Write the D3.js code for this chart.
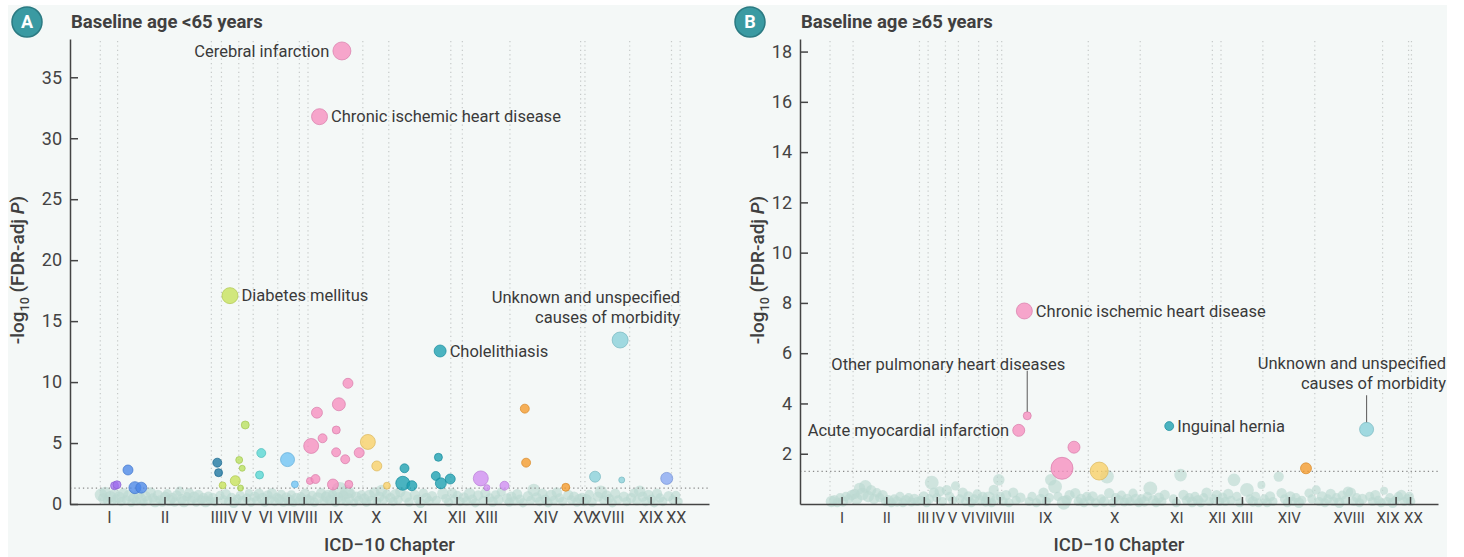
<!DOCTYPE html>
<html>
<head>
<meta charset="utf-8">
<script src="https://cdn.jsdelivr.net/npm/d3@7"></script>
<style>
  body { margin: 0; background: #fff; }
  svg { display: block; font-family: Roboto, "Noto Sans", sans-serif; }
</style>
</head>
<body>
<svg id="chart" width="1464" height="557"></svg>
<script>
// ICD-10 chapters and how many diseases each one holds (x order)
var chaptersA = ["I","II","III","IV","V","VI","VII","VIII","IX","X","XI","XII","XIII","XIV","XV","XVIII","XIX","XX"];
var countsA   = [12,65,7,12,10,17,15,6,38,18,43,8,33,49,3,31,29,6];
var chaptersB = ["I","II","III","IV","V","VI","VII","VIII","IX","X","XI","XII","XIII","XIV","XVIII","XIX","XX"];
var countsB   = [16,46,6,12,9,14,13,3,60,36,50,6,29,36,47,18,2];

var ticksA = [0,5,10,15,20,25,30,35];
var ticksB = [2,4,6,8,10,12,14,16,18];

var chapterColors = {
  "I":"#a070ee","II":"#4a86e8","III":"#1b75a0","IV":"#c6e25a","V":"#b9e05e",
  "VI":"#56d6d4","VII":"#6ec3f5","VIII":"#e27ab0","IX":"#f68dbf","X":"#f8cf66",
  "XI":"#1a9fb1","XII":"#1a9fb1","XIII":"#d08cf2","XIV":"#f59a2a","XV":"#f2a0a0",
  "XVIII":"#88d0da","XIX":"#86a6f2","XX":"#a0a0e0"
};

// significant diseases: [position, -log10 FDR-adj P, size]
var sigA = [
  [9.9,1.5,16],[11.6,1.58,16],
  [19.2,2.79,25],[24.0,1.34,36],[28.4,1.34,30],
  [81.1,3.39,20],[82.0,2.57,16],
  [84.8,1.53,12],[89.9,17.09,64],[93.6,1.91,25],
  [96.3,3.61,12],[98.4,2.93,9],[97.2,1.31,9],[100.5,6.48,16],
  [111.6,4.18,20],[110.4,2.38,16],
  [129.8,3.64,49],[134.9,1.61,12],
  [146.2,4.76,56],[145.3,1.89,12],[149.2,2.05,20],[150.2,7.49,30],[152.0,31.77,64],[154.1,5.39,20],
  [161.3,1.6,30],[163.5,4.24,20],[163.6,6.07,16],[165.4,8.18,42],[167.5,37.16,81],[169.8,3.67,20],
  [171.7,9.9,25],[172.3,1.61,16],[179.5,4.21,25],
  [185.5,5.09,56],[191.7,3.12,25],[198.7,1.5,12],
  [209.7,1.7,49],[210.9,2.93,20],[216.0,1.5,25],[232.6,2.3,20],[234.4,3.83,16],[235.6,12.55,36],
  [236.1,1.7,30],[242.6,2.05,25],
  [263.8,2.1,56],[268.0,1.34,9],[280.2,1.5,20],
  [294.3,7.82,20],[295.2,3.39,20],[322.7,1.37,16],
  [343.0,2.24,30],[360.4,13.45,64],[361.5,1.97,9],
  [392.7,2.1,36]
];

var sigB = [
  [130.8,2.93,36],[134.7,7.68,64],[136.7,3.51,16],[160.8,1.42,121],[169.1,2.26,36],
  [186.6,1.31,81],
  [235.1,3.1,20],
  [329.9,1.42,30],
  [371.9,2.97,49]
];

// non-significant diseases: [position, -log10 FDR-adj P, size]
var greyA = [
  [0.5,0.75,30],[2,0.45,20],[3.5,0.95,25],[5,0.3,16],[7,0.6,25],[8.5,0.2,12],[10,0.85,20],[11,0.4,16],
  [13,0.55,25],[14.5,0.2,16],[16,0.9,20],[18,0.35,16],[20,0.7,25],[21.5,0.1,12],[23,0.5,20],[25,0.25,16],
  [26.5,0.8,20],[28,0.4,25],[30,0.15,12],[31.5,0.65,20],[33,0.3,16],[35,0.95,20],[36.5,0.5,16],[38,0.2,25],
  [40,0.75,20],[41.5,0.35,16],[43,0.1,12],[45,0.6,20],[46.5,0.85,16],[48,0.3,25],[50,0.5,20],[51.5,0.15,16],
  [53,0.7,20],[55,1.05,16],[56.5,0.4,20],[58,0.2,25],[60,0.6,16],[61.5,0.9,20],[63,0.3,16],[65,0.55,25],
  [66.5,0.1,12],[68,0.75,20],[70,0.35,16],[71.5,0.5,20],[73,0.2,25],[75,0.65,16],[76,0.3,12],
  [78,0.5,20],[79.5,0.2,16],[83,0.7,16],
  [85.5,0.35,16],[87,0.8,20],[88.5,0.2,12],[91,0.55,16],[92.5,0.1,20],[95,0.4,16],
  [97,0.7,16],[99,0.25,20],[101.5,0.5,16],[103,0.9,12],[104.5,0.15,16],
  [107,0.6,20],[108.5,0.3,16],[110,0.85,20],[112.5,0.45,25],[114,0.15,16],[116,0.7,20],[117.5,0.35,16],
  [119,0.9,20],[121,0.2,16],[122.5,0.55,16],
  [124,0.4,20],[125.5,0.8,16],[127,0.15,16],[129,0.55,20],[131,0.3,25],[132.5,0.75,16],[134,0.1,12],
  [136,0.5,20],[137.5,0.25,16],
  [139,0.6,16],[140.5,0.2,16],[142,0.85,20],[143.5,0.4,16],
  [145,0.3,20],[147,0.7,16],[148.5,0.15,16],[151,0.5,25],[153,0.9,20],[155,0.25,16],[156.5,0.6,20],
  [158,0.6,36],[159.5,0.35,20],[161,0.8,16],[163,0.15,16],[165,0.55,20],[166,1.15,49],[167,0.3,16],
  [168.5,0.7,20],[170.5,0.2,16],[171,1.0,36],[172.5,0.45,20],[174,0.85,16],[176,0.1,12],[177.5,0.6,20],
  [179,0.3,16],[181,0.75,16],
  [183,0.45,20],[184.5,0.15,16],[186.5,0.7,25],[188,0.3,16],[190,0.95,20],[192,0.2,12],[193.5,0.6,20],
  [195,1.1,25],[196.5,0.35,16],[198.5,0.8,16],
  [201,0.5,20],[203,0.2,16],[204.5,0.8,20],[206.5,0.35,16],[208,1.0,20],[212,0.6,25],[214,0.15,16],
  [218,0.75,20],[220,0.4,16],[222,0.1,20],[224,0.9,16],[226,0.5,20],[228,0.25,16],[230,0.65,20],
  [233,0.3,16],[237.5,0.85,25],[239.5,0.45,16],[241.5,0.15,16],
  [244,0.9,20],[245.5,0.4,16],[247.5,0.7,16],[249.5,0.2,16],
  [252,0.55,20],[254,0.25,16],[256,0.85,25],[258,0.4,16],[260,0.1,16],[262,0.7,20],[265.5,0.3,16],
  [267,0.9,20],[270,0.5,16],[272,0.2,20],[274,0.75,16],[276,0.35,20],[278,1.0,16],[282,0.45,20],[283.5,0.15,16],
  [285,0.6,20],[287,0.25,16],[289,0.8,20],[291,0.4,16],[293,0.1,16],[296.5,0.65,20],[298.5,0.3,16],
  [300.5,1.15,30],[302.5,0.55,20],[304.5,0.2,16],[306.5,0.85,20],[308.5,0.4,16],[310.5,0.1,16],
  [312.5,0.7,25],[314.5,0.3,16],[316.5,0.95,20],[318.5,0.5,16],[320.5,0.2,16],[324.5,0.75,20],
  [326.5,0.35,16],[328.5,0.6,20],[330.5,0.15,16],[332,0.45,16],
  [334,0.55,16],[335.5,0.2,16],
  [337,0.4,20],[339,0.8,16],[341,0.15,16],[345,0.6,20],[347,1.0,30],[349,0.3,16],[351,0.7,20],
  [353,0.45,16],[355,0.1,16],[357,0.85,20],[359,0.35,16],[363,0.6,20],[365,0.2,16],
  [368,0.5,20],[370,0.9,16],[372,0.25,16],[374,1.05,25],[376,0.6,20],[378,0.2,16],[380,0.75,20],
  [382,0.4,16],[384,0.1,16],[386,0.85,20],[388,0.5,16],[390,0.2,16],[394,0.65,20],
  [397,0.35,16],[399,0.7,16],[401,0.2,12]
];

var greyB = [
  [1,0.1,25],[3,0.15,20],[5,0.05,16],[7,0.25,16],[9,0.1,20],[11,0.3,16],[13,0.2,16],[15,0.35,20],
  [17,0.4,20],[18.5,0.2,25],[20.5,0.62,25],[22.5,0.4,30],[24.5,0.7,30],[26.5,0.3,25],[28.5,0.55,20],
  [30.5,0.2,20],[32.5,0.45,16],[34.5,0.25,16],[36.5,0.35,20],[38.5,0.1,16],[40.5,0.15,20],[42.5,0.05,16],
  [44.5,0.2,16],[46.5,0.1,20],[48.5,0.3,16],[50.5,0.05,16],[52.5,0.15,20],[54.5,0.25,16],[56.5,0.08,16],
  [58.5,0.2,20],[60.5,0.1,16],
  [63,0.15,16],[65,0.3,20],[67,0.05,16],
  [69,0.2,16],[70.5,0.85,36],[72,0.45,20],[74,0.25,16],[76,0.5,20],[78,0.1,16],
  [81,0.55,20],[83,0.3,16],[85,0.15,16],[87,0.72,16],
  [90,0.2,16],[92,0.45,20],[94,0.1,16],[96,0.3,20],[98,0.05,16],[100,0.2,16],[102,0.4,16],
  [104,0.15,20],[106,0.3,16],[108,0.1,20],[110,0.25,30],[112,0.05,16],[113.5,0.56,20],[115,0.2,16],
  [117,0.96,25],[118,0.3,16],
  [120,0.1,16],[122,0.35,20],[124,0.05,16],[127,0.45,20],[129,0.15,16],[132,0.25,20],[138,0.1,16],
  [140,0.3,16],[143,0.05,16],[146,0.2,20],[148,0.45,20],[150,0.1,16],[152,0.25,16],[153,0.96,25],
  [156,0.69,36],[158,0.3,16],[162,0.05,36],[164,0.15,20],[166,0.35,20],[170,0.43,20],[172,0.1,16],
  [174,0.2,20],[176,0.05,16],[178,0.3,16],
  [180,0.15,16],[182,0.3,20],[184,0.05,16],[188,0.2,16],[190,0.1,20],[192,1.09,36],[193.5,0.43,20],
  [196,0.05,16],[198,0.25,16],[200,0.15,20],[202,0.35,16],[204,0.08,16],[206,0.2,20],[208,0.1,16],
  [210,0.43,16],[212,0.2,20],[214,0.05,16],
  [216,0.2,16],[218,0.1,20],[220,0.3,16],[222,0.62,36],[224,0.15,20],[226,0.05,16],[228,0.25,20],
  [230,0.1,16],[232,0.36,20],[238,0.2,16],[240,0.05,16],[243,1.15,30],[245,0.36,20],[247,0.15,16],
  [249,0.25,16],[251,0.08,20],[253,0.3,16],[255,0.15,20],[257,0.05,16],[259,0.25,16],[261,0.45,20],[263,0.1,16],
  [266,0.2,16],[268,0.35,20],[270,0.1,16],
  [272,0.25,20],[274,0.1,16],[276,0.4,20],[278,0.15,16],[280,0.96,30],[282,0.3,16],[284,0.05,16],
  [289,0.56,36],[291,0.2,16],[293,0.1,20],[295,0.3,16],[297,0.05,16],[299,0.76,12],
  [301,0.2,16],[303,0.05,16],[305,0.3,20],[307,0.1,16],[311,1.09,20],[313,0.43,20],[315,0.2,16],
  [317,0.05,16],[319,0.3,20],[321,0.1,16],[323,0.25,16],[325,0.05,20],[327,0.15,16],[332,0.43,16],[334,0.2,16],
  [337,0.56,16],[339,0.1,16],[341,0.3,20],[343,0.05,16],[345,0.2,16],[347,0.4,20],[349,0.1,16],
  [351,0.25,16],[353,0.05,20],[355,0.35,16],[357,0.15,16],[359,0.49,20],[361,0.45,20],[363,0.1,16],
  [365,0.25,16],[367,0.05,16],[369,0.2,20],[374,0.3,16],[376,0.1,16],[378,0.35,20],[380,0.15,16],[382,0.05,16],
  [384,0.53,12],[386,0.1,16],[388,0.25,16],[390,0.05,20],[392,0.15,16],[394,0.3,16],[396,0.36,20],
  [398,0.1,16],[400,0.2,16],
  [401.5,0.3,16],[402.5,0.1,16]
];

// labelled diseases: [position, label]
var labelsA = [
  [167.5, "Cerebral infarction"],
  [152.0, "Chronic ischemic heart disease"],
  [89.9,  "Diabetes mellitus"],
  [235.6, "Cholelithiasis"],
  [360.4, "Unknown and unspecified|causes of morbidity"]
];
var labelsB = [
  [134.7, "Chronic ischemic heart disease"],
  [136.7, "Other pulmonary heart diseases"],
  [130.8, "Acute myocardial infarction"],
  [235.1, "Inguinal hernia"],
  [371.9, "Unknown and unspecified|causes of morbidity"]
];

var threshold = -Math.log10(0.05);

// label placement (pixels, relative to the point)
var placement = {
  A: {
    "Cerebral infarction": {side: "left"},
    "Chronic ischemic heart disease": {side: "right"},
    "Diabetes mellitus": {side: "right"},
    "Cholelithiasis": {side: "right"},
    "Unknown and unspecified|causes of morbidity": {side: "top", dx: 60, dy: -43, anchor: "end"}
  },
  B: {
    "Chronic ischemic heart disease": {side: "right"},
    "Other pulmonary heart diseases": {side: "top", dx: -79, dy: -52, anchor: "middle", lead: -45},
    "Acute myocardial infarction": {side: "left"},
    "Inguinal hernia": {side: "right"},
    "Unknown and unspecified|causes of morbidity": {side: "top", dx: 79.5, dy: -66, anchor: "end", lead: -34}
  }
};

// small sideways nudges for crowded chapter labels
var tickNudgeA = {"VII": -2, "VIII": 2};
var tickNudgeB = {"III": -1, "IV": 1, "VI": -1, "VII": -4, "VIII": 4, "XIX": -8, "XX": 3};

var svg = d3.select("#chart");

svg.append("rect")
  .attr("x", 8).attr("y", 5)
  .attr("width", 1439).attr("height", 552)
  .attr("fill", "#f4f8f7");

var rScale = d3.scaleSqrt().domain([0, 100]).range([0, 10]);
var rGrey = d3.scaleSqrt().domain([0, 100]).range([0, 11.5]);

function drawPanel(o) {
  var top = 39, bottom = 504;
  var g = svg.append("g");

  var x = d3.scaleLinear().domain(o.xDomain).range([o.left, o.right]);
  var y = d3.scaleLinear().domain([0, o.yMax]).range([bottom, top]);

  var bounds = [0];
  o.counts.forEach(function(c) { bounds.push(bounds[bounds.length - 1] + c); });
  var centers = o.counts.map(function(c, i) { return bounds[i] + c / 2; });

  function chapterOf(p) {
    for (var k = 0; k < o.counts.length; k++) {
      if (p < bounds[k + 1]) return o.names[k];
    }
    return o.names[o.names.length - 1];
  }

  // chapter separators
  g.selectAll(".sep")
    .data(bounds)
    .enter().append("line")
    .attr("x1", function(d) { return x(d); })
    .attr("x2", function(d) { return x(d); })
    .attr("y1", top + 2).attr("y2", bottom)
    .attr("stroke", "#c5c9c8")
    .attr("stroke-width", 1.2)
    .attr("stroke-dasharray", "1.2,3.2");

  // non significant
  g.selectAll(".grey")
    .data(o.grey)
    .enter().append("circle")
    .attr("cx", function(d) { return x(d[0]); })
    .attr("cy", function(d) { return y(d[1]); })
    .attr("r", function(d) { return rGrey(d[2]); })
    .attr("fill", "#bcd8d1")
    .attr("fill-opacity", 0.65);

  // FDR threshold
  g.append("line")
    .attr("x1", o.left).attr("x2", o.right)
    .attr("y1", y(threshold)).attr("y2", y(threshold))
    .attr("stroke", "#8a8a8a")
    .attr("stroke-width", 1.3)
    .attr("stroke-dasharray", "1.3,3");

  // significant
  g.selectAll(".sig")
    .data(o.sig)
    .enter().append("circle")
    .attr("cx", function(d) { return x(d[0]); })
    .attr("cy", function(d) { return y(d[1]); })
    .attr("r", function(d) { return rScale(d[2]); })
    .attr("fill", function(d) { return chapterColors[chapterOf(d[0])]; })
    .attr("fill-opacity", 0.78)
    .attr("stroke", function(d) { return d3.color(chapterColors[chapterOf(d[0])]).darker(0.35); })
    .attr("stroke-opacity", 0.7)
    .attr("stroke-width", 1);

  // axes
  var xAxis = d3.axisBottom(x)
    .tickValues(centers)
    .tickFormat(function(d, i) { return o.names[i]; })
    .tickSizeInner(-7).tickSizeOuter(0).tickPadding(8);
  var gx = g.append("g").attr("transform", "translate(0," + bottom + ")").call(xAxis);

  var yAxis = d3.axisLeft(y)
    .tickValues(o.ticks)
    .tickSizeInner(-8).tickSizeOuter(0).tickPadding(8);
  var gy = g.append("g").attr("transform", "translate(" + o.left + ",0)").call(yAxis);

  [gx, gy].forEach(function(a) {
    a.select(".domain").attr("stroke", "#444").attr("stroke-width", 1.5);
    a.selectAll(".tick line").attr("stroke", "#444").attr("stroke-width", 1.5);
    a.selectAll(".tick text").attr("fill", "#444")
      .style("font-family", "Roboto, sans-serif");
  });
  gx.selectAll(".tick text")
    .style("font-size", o.xTickSize)
    .attr("dx", function() { return (o.nudge && o.nudge[this.textContent]) || 0; });
  gy.selectAll(".tick text").style("font-size", "18px");

  // labels
  o.labels.forEach(function(l) {
    var pt = o.sig.filter(function(d) { return d[0] === l[0]; })[0];
    var px = x(pt[0]), py = y(pt[1]), pr = rScale(pt[2]);
    var pl = o.place[l[1]];
    var lines = l[1].split("|");
    var t = g.append("text")
      .attr("fill", "#3a3a3a")
      .style("font-size", "16.5px");
    if (pl.side === "right" || pl.side === "left") {
      t.attr("x", pl.side === "right" ? px + pr + 3.5 : px - pr - 3.5)
        .attr("y", py)
        .attr("dy", "0.35em")
        .attr("text-anchor", pl.side === "right" ? "start" : "end")
        .text(lines[0]);
    } else {
      t.attr("text-anchor", pl.anchor);
      lines.forEach(function(s, i) {
        t.append("tspan")
          .attr("x", px + pl.dx)
          .attr("y", py + pl.dy + i * 20)
          .attr("dy", "0.35em")
          .text(s);
      });
      if (pl.lead !== undefined) {
        g.append("line")
          .attr("x1", px).attr("x2", px)
          .attr("y1", py + pl.lead).attr("y2", py - pr)
          .attr("stroke", "#666").attr("stroke-width", 1.1);
      }
    }
  });

  // badge + title
  g.append("circle")
    .attr("cx", o.badgeX).attr("cy", 22).attr("r", 15)
    .attr("fill", "#3a9aa2").attr("stroke", "#2b7a82").attr("stroke-width", 1.5);
  g.append("text")
    .attr("x", o.badgeX).attr("y", 22).attr("dy", "0.36em")
    .attr("text-anchor", "middle")
    .attr("fill", "#fff")
    .style("font-size", "18px").style("font-weight", "bold")
    .text(o.badge);
  g.append("text")
    .attr("x", o.left + 1).attr("y", 28)
    .attr("fill", "#404040")
    .style("font-size", "18.5px").style("font-weight", "bold")
    .text(o.title);

  // axis titles
  g.append("text")
    .attr("x", (o.left + o.right) / 2).attr("y", 551)
    .attr("text-anchor", "middle")
    .attr("fill", "#404040")
    .style("font-size", "18.5px").style("font-weight", "500")
    .text("ICD\u221210 Chapter");

  var yl = g.append("text")
    .attr("transform", "translate(" + o.ylabX + "," + 270 + ") rotate(-90)")
    .attr("text-anchor", "middle")
    .attr("fill", "#404040")
    .style("font-size", "19px").style("font-weight", "500");
  yl.append("tspan").text("-log");
  yl.append("tspan").attr("dy", 5).style("font-size", "12.5px").text("10");
  yl.append("tspan").attr("dy", -5).text(" (FDR-adj ");
  yl.append("tspan").style("font-style", "italic").text("P");
  yl.append("tspan").text(")");
}

drawPanel({
  names: chaptersA, counts: countsA, sig: sigA, grey: greyA, labels: labelsA, place: placement.A,
  ticks: ticksA, yMax: 38.14, xDomain: [-21, 422], left: 70, right: 709,
  badge: "A", badgeX: 27, title: "Baseline age <65 years", ylabX: 24, nudge: tickNudgeA, xTickSize: "16px"
});

drawPanel({
  names: chaptersB, counts: countsB, sig: sigB, grey: greyB, labels: labelsB, place: placement.B,
  ticks: ticksB, yMax: 18.5, xDomain: [-20.8, 421.4], left: 800, right: 1438,
  badge: "B", badgeX: 750, title: "Baseline age \u226565 years", ylabX: 764, nudge: tickNudgeB, xTickSize: "15px"
});
</script>
</body>
</html>
